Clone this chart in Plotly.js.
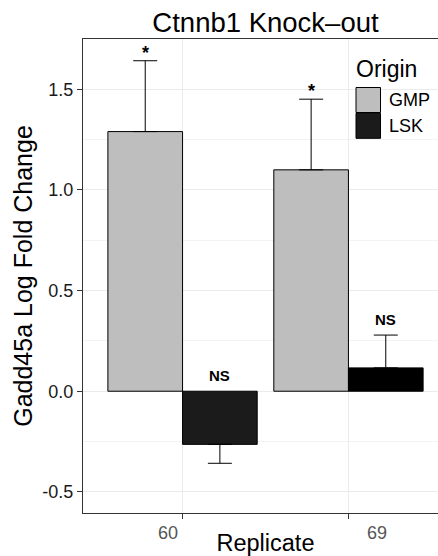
<!DOCTYPE html>
<html>
<head>
<meta charset="utf-8">
<script src="https://cdn.plot.ly/plotly-3.0.1.min.js"></script>
<style>
html, body { margin:0; padding:0; overflow:hidden; background:#fff; }
#chart { width:450px; height:556px; }
</style>
</head>
<body>
<div id="chart"></div>
<script>
// ---- data ----
var replicates = ["60", "69"];
var origins = ["GMP", "LSK"];
var gmpMean = [1.29, 1.10];
var gmpErr = [0.352, 0.351];
var lskMean = [-0.264, 0.116];
var lskErr = [0.094, 0.163];
var gmpSig = ["*", "*"];
var lskSig = ["NS", "NS"];
var yTickVals = [-0.5, 0, 0.5, 1.0, 1.5];
var yTickText = ["-0.5", "0.0", "0.5", "1.0", "1.5"];

// ---- styles ----
var FONT = "Liberation Sans, Arial, Helvetica, sans-serif";
var gmpColor = "#bebebe";
var lskColors = ["#1b1b1b", "#000000"];
var lskLegendColor = "#1b1b1b";

var W = 450, H = 556;
var M = {l: 83, r: 2, t: 39, b: 43};
var plotW = W - M.l - M.r, plotH = H - M.t - M.b;
function px2x(px) { return (px - M.l) / plotW; }
function px2y(py) { return (H - M.b - py) / plotH; }

function upErr(mean, err) { return mean.map(function (m, i) { return m >= 0 ? err[i] : 0; }); }
function downErr(mean, err) { return mean.map(function (m, i) { return m < 0 ? err[i] : 0; }); }

var bargap = 0.1;
var half = (1 - bargap) / 4; // center offset of each bar within a group

var traces = [
  {
    type: "bar", name: origins[0], x: replicates, y: gmpMean,
    marker: {color: gmpColor, line: {color: "#000", width: 1}},
    error_y: {type: "data", symmetric: false, array: upErr(gmpMean, gmpErr), arrayminus: downErr(gmpMean, gmpErr),
              color: "#000", thickness: 1, width: 12},
    showlegend: false, hoverinfo: "skip"
  },
  {
    type: "bar", name: origins[1], x: replicates, y: lskMean,
    marker: {color: lskColors, line: {color: "#000", width: 1}},
    error_y: {type: "data", symmetric: false, array: upErr(lskMean, lskErr), arrayminus: downErr(lskMean, lskErr),
              color: "#000", thickness: 1, width: 12},
    showlegend: false, hoverinfo: "skip"
  }
];

var annotations = [];
// significance labels
function addSig(labels, mean, err, offset) {
  labels.forEach(function (lab, i) {
    var top = Math.max(0, mean[i] >= 0 ? mean[i] + err[i] : 0);
    var isStar = lab === "*";
    annotations.push({
      x: i + offset, y: top, xref: "x", yref: "y", text: "<b>" + lab + "</b>",
      showarrow: false, yanchor: "bottom", xanchor: "center",
      yshift: isStar ? -4 : 5,
      font: {family: FONT, size: isStar ? 18 : 15, color: "#000"}
    });
  });
}
addSig(gmpSig, gmpMean, gmpErr, -half);
addSig(lskSig, lskMean, lskErr, half);

// x tick labels (offset as in the reference)
var xLabelShift = [-15, 29];
replicates.forEach(function (r, i) {
  annotations.push({
    x: i, y: 0, xref: "x", yref: "paper", text: r, showarrow: false,
    yanchor: "top", xanchor: "center", xshift: xLabelShift[i], yshift: -8,
    font: {family: FONT, size: 18, color: "#555555"}
  });
});

// manual legend
var shapes = [];
var legendColors = [gmpColor, lskLegendColor];
annotations.push({
  x: px2x(354), y: px2y(69), xref: "paper", yref: "paper", text: "Origin", showarrow: false,
  xanchor: "left", yanchor: "middle", font: {family: FONT, size: 23, color: "#000"}
});
origins.forEach(function (o, i) {
  var top = 87.5 + i * 25.8;
  shapes.push({
    type: "rect", xref: "paper", yref: "paper",
    x0: px2x(356), x1: px2x(380.5), y0: px2y(top), y1: px2y(top + 25),
    fillcolor: legendColors[i], line: {color: "#000", width: 1}
  });
  annotations.push({
    x: px2x(387), y: px2y(top + 12.5), xref: "paper", yref: "paper", text: o, showarrow: false,
    xanchor: "left", yanchor: "middle", font: {family: FONT, size: 18, color: "#000"}
  });
});

var layout = {
  width: W, height: H,
  margin: M,
  paper_bgcolor: "#fff", plot_bgcolor: "#fff",
  barmode: "group", bargap: bargap, bargroupgap: 0,
  showlegend: false,
  title: {text: "Ctnnb1 Knock\u2013out", x: 0.5, xref: "paper", xanchor: "center", y: 1 - 22 / H, yanchor: "middle",
          font: {family: FONT, size: 27.5, color: "#000"}},
  xaxis: {
    type: "category", range: [-0.6, 1.6], showticklabels: false,
    ticks: "outside", ticklen: 5, tickcolor: "#333", tickwidth: 1,
    showline: true, linecolor: "#333", linewidth: 1.2, mirror: true,
    showgrid: true, gridcolor: "#ebebeb", gridwidth: 1, zeroline: false,
    title: {text: "Replicate", font: {family: FONT, size: 23.5, color: "#000"}, standoff: 26}
  },
  yaxis: {
    range: [-0.605, 1.75], tickvals: yTickVals, ticktext: yTickText,
    ticks: "outside", ticklen: 5, tickcolor: "#333", tickwidth: 1,
    tickfont: {family: FONT, size: 18, color: "#1a1a1a"},
    showline: true, linecolor: "#333", linewidth: 1.2, mirror: true,
    showgrid: true, gridcolor: "#ebebeb", gridwidth: 1, zeroline: false,
    minor: {dtick: 0.25, showgrid: true, gridcolor: "#f3f3f3", gridwidth: 1, ticks: ""},
    title: {text: "Gadd45a Log Fold Change", font: {family: FONT, size: 25, color: "#000"}, standoff: 2}
  },
  annotations: annotations,
  shapes: shapes
};

Plotly.newPlot("chart", traces, layout, {displayModeBar: false, staticPlot: true});
</script>
</body>
</html>
